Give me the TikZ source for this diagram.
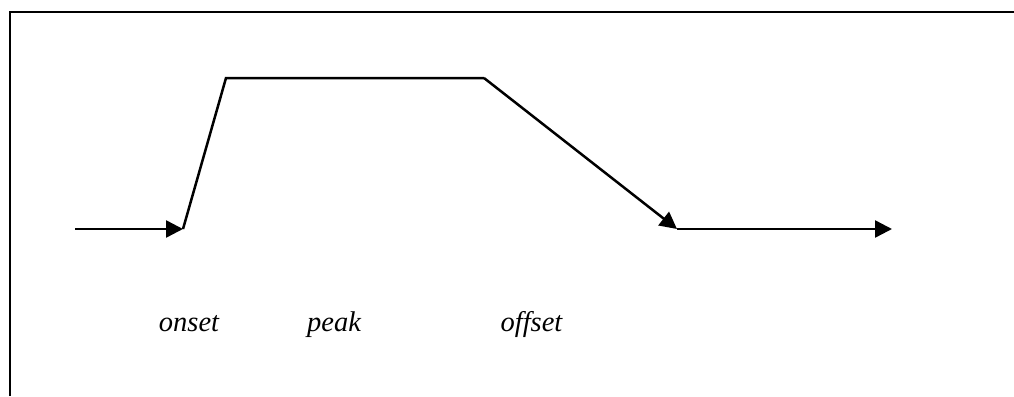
\documentclass[tikz,border=0pt]{standalone}
\usepackage{fontspec}
\setmainfont{Liberation Serif}
\usetikzlibrary{arrows.meta}

\tikzset{
  phase/.style={font=\fontsize{28.5}{32}\selectfont\itshape, anchor=base, inner sep=0pt},
  trace/.style={line width=2.5pt, line join=miter},
  tip/.style={trace, -{Triangle[length=17pt,width=17pt]}}
}

\begin{document}
\begin{tikzpicture}[x=1pt,y=-1pt]
        \useasboundingbox (0,0) rectangle (1014,396);

        % Frame (only top and left edges show)
        \draw[line width=2.8pt] (10,396) -- (10,12) -- (1014,12);

        % Corner points of the envelope
        \coordinate (start) at (75,229);
        \coordinate (rise) at (183,229);
        \coordinate (top1) at (226,78);
        \coordinate (top2) at (484,78);
        \coordinate (fall) at (677,229);
        \coordinate (finish) at (892,229);

        % Envelope
        \draw[tip] (start) -- (rise);
        \draw[trace] (rise) -- (top1) -- (top2);
        \draw[tip] (top2) -- (fall);
        \draw[tip] (fall) -- (finish);

        % Phase labels
        \node[phase] (onset) at (189,331) {onset};
        \node[phase] (peak) at (334,331) {peak};
        \node[phase] (offset) at (531.5,331) {offset};
    \end{tikzpicture}
\end{document}
